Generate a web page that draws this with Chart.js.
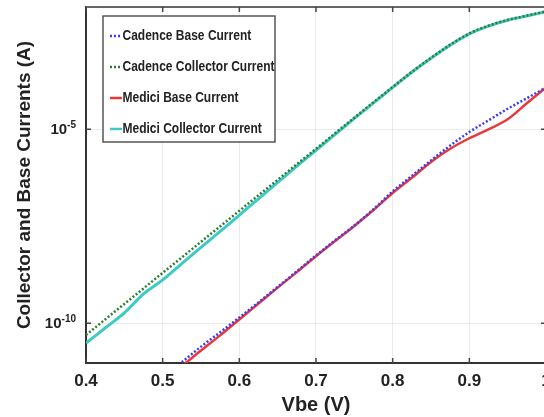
<!DOCTYPE html>
<html>
<head>
<meta charset="utf-8">
<script src="https://cdn.jsdelivr.net/npm/chart.js@4/dist/chart.umd.min.js"></script>
<style>
  html, body { margin: 0; padding: 0; background: #fff; overflow: hidden; }
  #wrap { width: 560px; height: 417px; }
</style>
</head>
<body>
<div id="wrap"><canvas id="c" width="560" height="417"></canvas></div>
<script>
// ---- data (currents stored as log10 of amperes) ----
const vbe = [0.400,0.425,0.450,0.475,0.500,0.525,0.550,0.575,0.600,0.625,0.650,0.675,0.700,
             0.725,0.750,0.775,0.800,0.825,0.850,0.875,0.900,0.925,0.950,0.975,1.000];
const cadenceBaseLog = [null,null,null,null,-11.38,-11.00,-10.60,-10.23,-9.85,-9.46,-9.06,-8.66,-8.25,
                        -7.86,-7.48,-7.06,-6.60,-6.20,-5.80,-5.42,-5.07,-4.77,-4.47,-4.20,-3.92];
const cadenceCollectorLog = [-10.30,-9.90,-9.50,-9.10,-8.70,-8.30,-7.90,-7.50,-7.10,-6.70,-6.30,-5.90,-5.50,
                             -5.10,-4.70,-4.30,-3.91,-3.52,-3.16,-2.82,-2.53,-2.33,-2.18,-2.07,-1.96];
const mediciBaseLog = [null,null,null,null,-11.48,-11.10,-10.70,-10.31,-9.90,-9.49,-9.08,-8.68,-8.27,
                       -7.88,-7.49,-7.08,-6.64,-6.25,-5.84,-5.50,-5.23,-5.00,-4.74,-4.33,-3.92];
const mediciCollectorLog = [-10.51,-10.12,-9.73,-9.24,-8.88,-8.46,-8.04,-7.63,-7.21,-6.79,-6.37,-5.95,-5.54,
                            -5.13,-4.72,-4.32,-3.92,-3.53,-3.17,-2.83,-2.54,-2.34,-2.19,-2.08,-1.97];
const seriesLabels = ['Cadence Base Current','Cadence Collector Current','Medici Base Current','Medici Collector Current'];
const xTickValues = [0.4,0.5,0.6,0.7,0.8,0.9,1.0];
const yTickExponents = [-10,-5];

function toPoints(logs) {
  return vbe.map((v, i) => ({x: v, y: logs[i] === null ? null : Math.pow(10, logs[i])}));
}

const FONT = '"Liberation Sans", Arial, sans-serif';
const TEXT = '#222';

const frame = {
  id: 'frame',
  afterDraw(chart) {
    const {ctx, chartArea: a, scales} = chart;
    ctx.save();
    ctx.strokeStyle = '#666';
    ctx.lineWidth = 2;
    ctx.beginPath(); ctx.moveTo(a.left, a.top); ctx.lineTo(a.right, a.top); ctx.stroke();
    ctx.strokeStyle = '#444';
    ctx.lineWidth = 1.5;
    xTickValues.forEach(v => {
      const px = scales.x.getPixelForValue(v);
      ctx.beginPath();
      ctx.moveTo(px, a.bottom); ctx.lineTo(px, a.bottom - 5);
      ctx.moveTo(px, a.top); ctx.lineTo(px, a.top + 5);
      ctx.stroke();
    });
    // y tick labels as 10 with a raised exponent
    const labelRight = a.left - 10;
    yTickExponents.forEach(e => {
      const py = scales.y.getPixelForValue(Math.pow(10, e));
      ctx.beginPath();
      ctx.moveTo(a.left, py); ctx.lineTo(a.left + 5, py);
      ctx.moveTo(a.right, py); ctx.lineTo(a.right - 5, py);
      ctx.stroke();
      const expText = String(e);
      ctx.fillStyle = TEXT;
      ctx.font = 'bold 10px ' + FONT;
      ctx.textAlign = 'right';
      ctx.textBaseline = 'alphabetic';
      const ew = ctx.measureText(expText).width;
      ctx.fillText(expText, labelRight, py - 1);
      ctx.font = 'bold 15px ' + FONT;
      ctx.textBaseline = 'middle';
      ctx.fillText('10', labelRight - ew, py + 1);
    });
    ctx.restore();
  }
};

const boxLegend = {
  id: 'boxLegend',
  afterDatasetsDraw(chart) {
    const {ctx, chartArea: a} = chart;
    const x0 = a.left + 17, y0 = a.top + 9, w = 172, h = 126;
    ctx.save();
    ctx.fillStyle = '#fff';
    ctx.fillRect(x0, y0, w, h);
    ctx.strokeStyle = '#555';
    ctx.lineWidth = 1.5;
    ctx.strokeRect(x0, y0, w, h);
    chart.data.datasets.forEach((ds, i) => {
      const y = y0 + 20 + i * 31;
      ctx.beginPath();
      ctx.setLineDash(ds.borderDash || []);
      ctx.strokeStyle = ds.borderColor;
      ctx.lineWidth = 2.5;
      ctx.moveTo(x0 + 7, y); ctx.lineTo(x0 + 19, y);
      ctx.stroke();
      ctx.setLineDash([]);
      ctx.save();
      ctx.translate(x0 + 19.5, y);
      ctx.scale(1, 1.2);
      ctx.fillStyle = TEXT;
      ctx.font = 'bold 12px ' + FONT;
      ctx.textBaseline = 'middle';
      ctx.fillText(ds.label, 0, 0);
      ctx.restore();
    });
    ctx.restore();
  }
};

new Chart(document.getElementById('c'), {
  type: 'line',
  data: {
    datasets: [
      { label: seriesLabels[0], data: toPoints(cadenceBaseLog), borderColor: '#3b3bf2', borderWidth: 2.5,
        borderDash: [2, 2], pointRadius: 0, cubicInterpolationMode: 'monotone' },
      { label: seriesLabels[1], data: toPoints(cadenceCollectorLog), borderColor: '#2d7d32', borderWidth: 2.5,
        borderDash: [2, 2], pointRadius: 0, cubicInterpolationMode: 'monotone' },
      { label: seriesLabels[2], data: toPoints(mediciBaseLog), borderColor: '#e8383c', borderWidth: 2.5,
        pointRadius: 0, cubicInterpolationMode: 'monotone' },
      { label: seriesLabels[3], data: toPoints(mediciCollectorLog), borderColor: '#3ec9c4', borderWidth: 3,
        pointRadius: 0, cubicInterpolationMode: 'monotone' }
    ]
  },
  options: {
    responsive: false,
    animation: false,
    layout: { padding: { left: 0, top: 7, right: 14, bottom: 0 } },
    plugins: { legend: { display: false }, tooltip: { enabled: false } },
    scales: {
      x: {
        type: 'linear', min: 0.4, max: 1.0,
        afterFit(s) { s.height = 54; s.paddingLeft = 0; s.paddingRight = 0; },
        afterBuildTicks(s) { s.ticks = xTickValues.map(v => ({value: v})); },
        ticks: { padding: 8, color: TEXT, font: { family: FONT, size: 17, weight: 'bold' },
                 callback: v => String(Math.round(v * 10) / 10) },
        grid: { color: 'rgba(0,0,0,0.08)', lineWidth: 1, drawTicks: false },
        border: { color: '#333', width: 2 },
        title: { display: true, text: 'Vbe (V)', color: TEXT, padding: { top: 0, bottom: 0 },
                 font: { family: FONT, size: 20, weight: 'bold' } }
      },
      y: {
        type: 'logarithmic', min: 9.5e-12, max: 1.42e-2,
        afterFit(s) { s.width = 86; s.paddingTop = 0; s.paddingBottom = 0; },
        afterBuildTicks(s) { s.ticks = yTickExponents.map(e => ({value: Math.pow(10, e)})); },
        ticks: { display: false },
        grid: { color: 'rgba(0,0,0,0.08)', lineWidth: 1, drawTicks: false },
        border: { color: '#333', width: 2 },
        title: { display: true, text: 'Collector and Base Currents (A)', color: TEXT,
                 padding: { top: 13, bottom: 0 }, font: { family: FONT, size: 19, weight: 'bold' } }
      }
    }
  },
  plugins: [frame, boxLegend]
});
</script>
</body>
</html>
